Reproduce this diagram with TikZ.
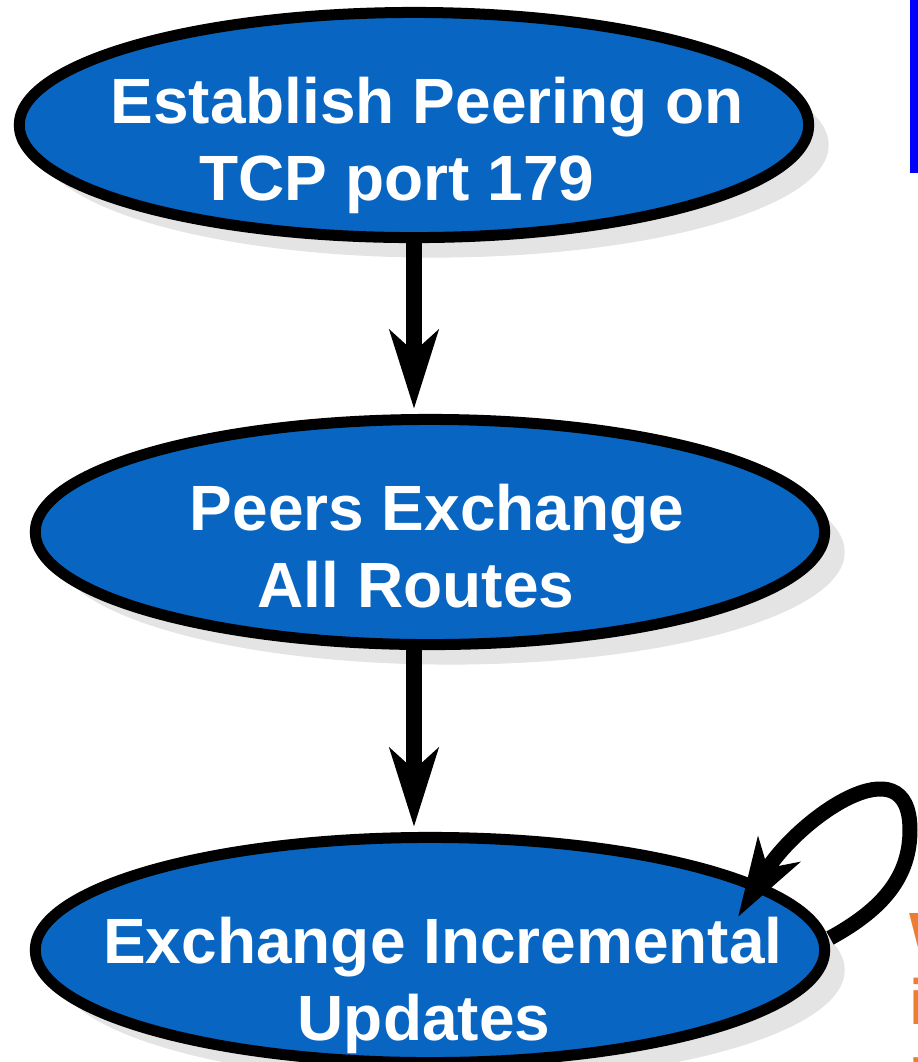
\documentclass[tikz,border=0pt]{standalone}
\usepackage{fontspec}
\setmainfont{Liberation Sans}
\usetikzlibrary{positioning, shapes.geometric, arrows.meta, shadows, calc}

\definecolor{PeerBlue}{RGB}{8,101,193}
\definecolor{PeerShadow}{RGB}{228,228,228}
\definecolor{NoteOrange}{RGB}{237,125,49}
\definecolor{BarBlue}{RGB}{0,0,255}

\begin{document}
\begin{tikzpicture}[x=0.01cm, y=-0.01cm,
  every node/.style={font=\fontsize{18.2}{21.9}\selectfont\bfseries},
  stage/.style={ellipse, draw=black, line width=0.11cm, fill=PeerBlue, inner sep=0pt, minimum width=7.89cm, minimum height=2.25cm,
    general shadow={fill=PeerShadow, shadow xshift=0.2cm, shadow yshift=-0.2cm}},
  stagetext/.style={text=white, align=center, inner sep=0pt},
  flow/.style={-{Stealth[length=0.78cm, width=0.48cm, inset=0.21cm]}, line width=0.15cm, black},
  note/.style={text=NoteOrange, align=left, inner sep=0pt, anchor=north west, font=\fontsize{18.2}{19.0}\selectfont\bfseries}
]
\useasboundingbox (0,0) rectangle (918,1062);
\clip (0,0) rectangle (918,1062);

% Stages
\node[stage] (est) at (414,125) {};
\node[stage] (peer) at (430,532) {};
\node[stage] (upd) at (430,950) {};

\node[stagetext] (est-text) at (427,145) {Establish Peering on\\TCP port 179\hspace*{0.6cm}};
\node[stagetext] (peer-text) at (437,546) {Peers Exchange\\All Routes\hspace*{0.42cm}};
\node[stagetext] (upd-text) at (443,985) {Exchange Incremental\\Updates\hspace*{0.38cm}};

% Loop points
\coordinate (loop-out) at (830,938);
\coordinate (loop-turn) at (910,830);
\coordinate (loop-in) at (738,917);

% Arrows
\draw[flow, shorten >=0.05cm] (est.south) -- (est.south |- peer.north);
\draw[flow, shorten >=0.05cm] (est.south |- peer.south) -- (est.south |- upd.north);
\draw[flow] (loop-out) .. controls (885,908) and (910,875) .. (loop-turn)
  .. controls (910,740) and (798,818) .. (loop-in);

% Cut-off side content
\fill[BarBlue] (910,0) rectangle (918,173);
\node[note] (side-note) at (909,913) {W\\i\\n};

\end{tikzpicture}
\end{document}
